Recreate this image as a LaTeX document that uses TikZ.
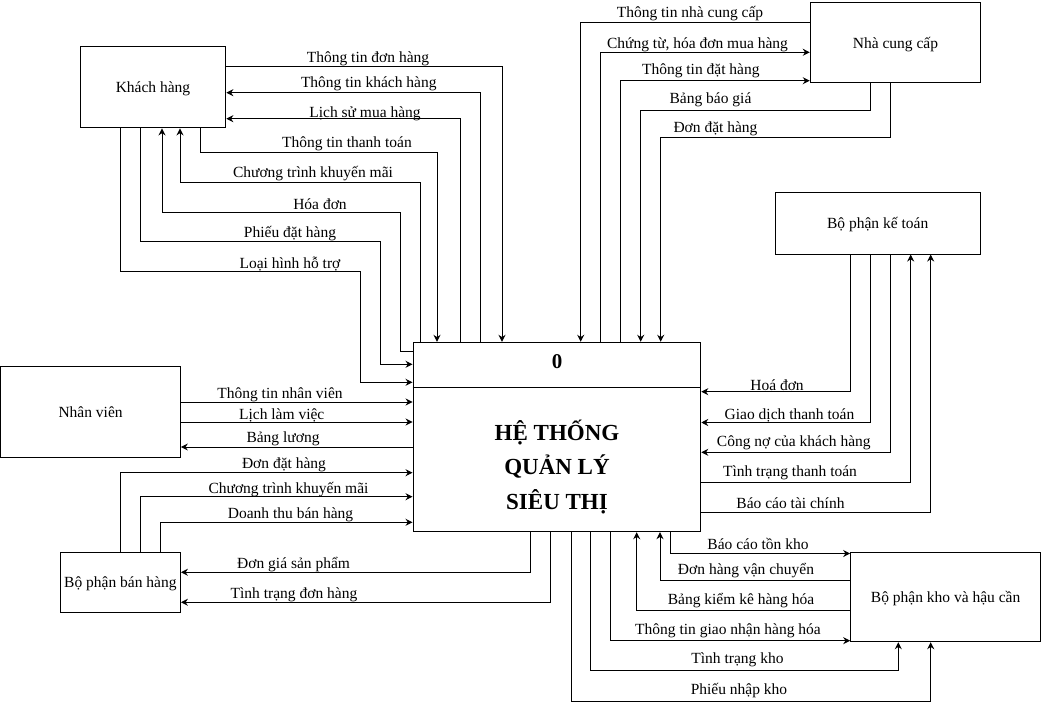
\documentclass[tikz,border=0pt]{standalone}
\usepackage{fontspec}
\setmainfont{Liberation Serif}
\usepackage{tikz}
\usetikzlibrary{arrows.meta,positioning}

\begin{document}
\begin{tikzpicture}[x=1pt,y=-1pt,every node/.style={font=\fontsize{15.5}{18}\selectfont},
box/.style={draw,line width=1pt,inner sep=0pt,align=center,text depth=0pt},
lbl/.style={inner sep=0pt,yshift=-2pt},
line/.style={line width=1pt},
arr/.style={-{Stealth[length=7pt,width=7pt]},line width=1pt}]
\useasboundingbox (0,0) rectangle (1042,711);
\node[box,minimum width=145.7pt,minimum height=81.3pt] (kh) at (153,87.3) {Khách hàng};
\node[box,minimum width=170.4pt,minimum height=79.6pt] (ncc) at (895.5,42.5) {Nhà cung cấp};
\node[box,minimum width=205.3pt,minimum height=61.7pt] (ketoan) at (877.7,223.2) {Bộ phận kế toán};
\node[box,minimum width=179.5pt,minimum height=90pt] (nv) at (90.6,412) {Nhân viên};
\node[box,minimum width=120pt,minimum height=59.7pt] (bh) at (120.4,582.2) {Bộ phận bán hàng};
\node[box,minimum width=189.8pt,minimum height=89.2pt] (kho) at (945.6,597.1) {Bộ phận kho và hậu cần};
\node[box,minimum width=287.7pt,minimum height=189.4pt] (sys) at (556.9,437) {};
\draw[line] (sys.west |- 0,388) -- (sys.east |- 0,388);
\node[font=\fontsize{21}{24}\selectfont\bfseries] (so) at (557,362) {0};
\node[font=\fontsize{23}{34.5}\selectfont\bfseries,align=center] (ten) at (557,467) {HỆ THỐNG\\QUẢN LÝ\\SIÊU THỊ};

\draw[arr] (kh.east |- 0,66.7) -| (sys.north -| 502,0);
\draw[arr] (sys.north -| 480,0) |- (kh.east |- 0,92.7);
\draw[arr] (sys.north -| 460,0) |- (kh.east |- 0,118.7);
\draw[arr] (kh.south -| 200,0) |- (437,152.3) -- (sys.north -| 437,0);
\draw[arr] (sys.north -| 420,0) |- (180,182.3) -- (kh.south -| 180,0);
\draw[arr] (sys.west |- 0,352) -| (400.7,212.3) -| (kh.south -| 162,0);
\draw[arr] (kh.south -| 140,0) |- (380.7,242) |- (sys.west |- 0,364.3);
\draw[arr] (kh.south -| 120,0) |- (360.7,272) |- (sys.west |- 0,382.3);
\node[lbl] (l1) at (368,57) {Thông tin đơn hàng};
\node[lbl] (l2) at (368.8,82) {Thông tin khách hàng};
\node[lbl] (l3) at (365,111.5) {Lịch sử mua hàng};
\node[lbl] (l4) at (347,142) {Thông tin thanh toán};
\node[lbl] (l5) at (313,172) {Chương trình khuyến mãi};
\node[lbl] (l6) at (320,202) {Hóa đơn};
\node[lbl] (l7) at (290,232) {Phiếu đặt hàng};
\node[lbl] (l8) at (290,262) {Loại hình hỗ trợ};

\draw[arr] (ncc.west |- 0,22.3) -| (sys.north -| 580.7,0);
\draw[arr] (sys.north -| 600.7,0) |- (ncc.west |- 0,52.3);
\draw[arr] (sys.north -| 620.7,0) |- (ncc.west |- 0,80.7);
\draw[arr] (ncc.south -| 870.7,0) |- (640.7,110.7) -- (sys.north -| 640.7,0);
\draw[arr] (ncc.south -| 890,0) |- (660.7,137.7) -- (sys.north -| 660.7,0);
\node[lbl] (n1) at (690,12) {Thông tin nhà cung cấp};
\node[lbl] (n2) at (697.5,42.5) {Chứng từ, hóa đơn mua hàng};
\node[lbl] (n3) at (700.8,69) {Thông tin đặt hàng};
\node[lbl] (n4) at (710.5,98) {Bảng báo giá};
\node[lbl] (n5) at (715.5,127) {Đơn đặt hàng};

\draw[arr] (ketoan.south -| 850.7,0) |- (sys.east |- 0,391.7);
\draw[arr] (ketoan.south -| 870.7,0) |- (sys.east |- 0,422.5);
\draw[arr] (ketoan.south -| 890.7,0) |- (sys.east |- 0,452.3);
\draw[arr] (sys.east |- 0,482.3) -| (ketoan.south -| 910.7,0);
\draw[arr] (sys.east |- 0,512.3) -| (ketoan.south -| 930.7,0);
\node[lbl] (k1) at (777,383) {Hoá đơn};
\node[lbl] (k2) at (789.5,413) {Giao dịch thanh toán};
\node[lbl] (k3) at (793.8,441) {Công nợ của khách hàng};
\node[lbl] (k4) at (790,471) {Tình trạng thanh toán};
\node[lbl] (k5) at (790.5,501) {Báo cáo tài chính};

\draw[arr] (nv.east |- 0,402) -- (sys.west |- 0,402);
\draw[arr] (nv.east |- 0,422) -- (sys.west |- 0,422);
\draw[arr] (sys.west |- 0,447) -- (nv.east |- 0,447);
\node[lbl] (v1) at (280,393) {Thông tin nhân viên};
\node[lbl] (v2) at (281.7,413) {Lịch làm việc};
\node[lbl] (v3) at (283,437) {Bảng lương};

\draw[arr] (bh.north -| 120.7,0) |- (sys.west |- 0,472.7);
\draw[arr] (bh.north -| 140.7,0) |- (sys.west |- 0,496.7);
\draw[arr] (bh.north -| 160.7,0) |- (sys.west |- 0,522.3);
\draw[arr] (sys.south -| 530.4,0) |- (bh.east |- 0,572.3);
\draw[arr] (sys.south -| 550.7,0) |- (bh.east |- 0,602.3);
\node[lbl] (b1) at (284,463) {Đơn đặt hàng};
\node[lbl] (b2) at (288.5,488) {Chương trình khuyến mãi};
\node[lbl] (b3) at (290.5,513) {Doanh thu bán hàng};
\node[lbl] (b4) at (293.6,563) {Đơn giá sản phẩm};
\node[lbl] (b5) at (294,593) {Tình trạng đơn hàng};

\draw[arr] (sys.south -| 670,0) |- (kho.west |- 0,553.5);
\draw[arr] (kho.west |- 0,580.7) -| (sys.south -| 660,0);
\draw[arr] (kho.west |- 0,610) -| (sys.south -| 636.7,0);
\draw[arr] (sys.south -| 610.7,0) |- (kho.west |- 0,640.7);
\draw[arr] (sys.south -| 590.7,0) |- (898.3,670.7) -- (kho.south -| 898.3,0);
\draw[arr] (sys.south -| 571.7,0) |- (930.7,701.7) -- (kho.south -| 930.7,0);
\node[lbl] (h1) at (758,541.5) {Báo cáo tồn kho};
\node[lbl] (h2) at (746,569) {Đơn hàng vận chuyển};
\node[lbl] (h3) at (741,598.5) {Bảng kiểm kê hàng hóa};
\node[lbl] (h4) at (728,628.5) {Thông tin giao nhận hàng hóa};
\node[lbl] (h5) at (737.5,658) {Tình trạng kho};
\node[lbl] (h6) at (739,689) {Phiếu nhập kho};
\end{tikzpicture}
\end{document}
